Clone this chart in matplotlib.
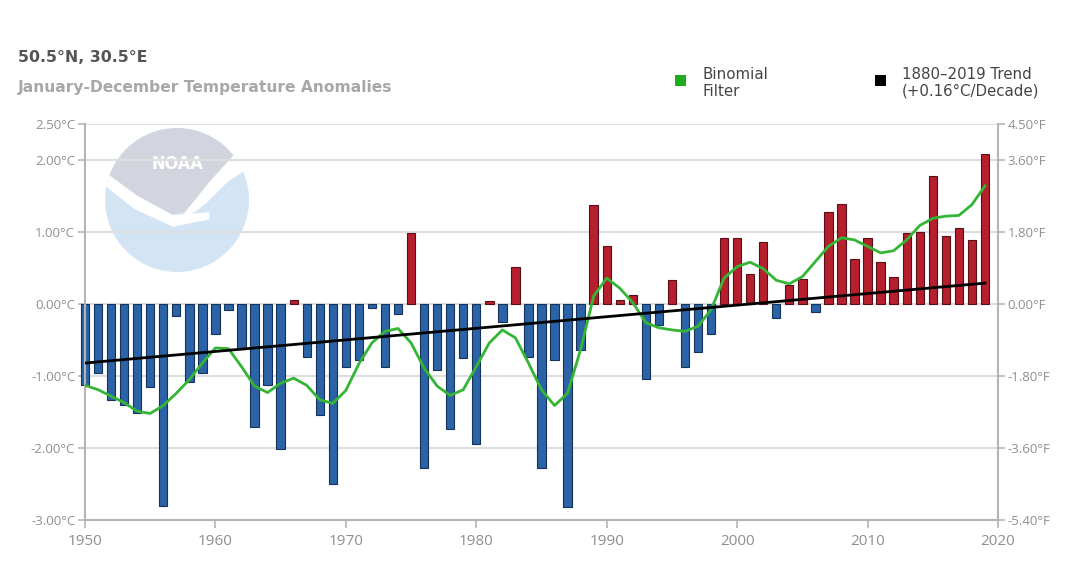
import matplotlib
matplotlib.use("Agg")
import matplotlib.pyplot as plt
import numpy as np
from matplotlib.patches import Circle, Polygon, Rectangle

W, H = 1081, 581

# annual anomalies (degC), 1950..2019
years = np.arange(1950, 2020)
anomaly = [
    -1.13, -0.96, -1.34, -1.40, -1.52, -1.15, -2.80, -0.16, -1.09, -0.96,
    -0.41, -0.09, -0.62, -1.71, -1.12, -2.01, 0.05, -0.74, -1.54, -2.50,
    -0.87, -0.78, -0.06, -0.87, -0.14, 0.98, -2.28, -0.91, -1.73, -0.75,
    -1.94, 0.04, -0.25, 0.51, -0.74, -2.28, -0.78, -2.82, -0.64, 1.38,
    0.81, 0.05, 0.12, -1.04, -0.29, 0.34, -0.88, -0.66, -0.41, 0.92,
    0.92, 0.42, 0.86, -0.19, 0.27, 0.35, -0.11, 1.28, 1.39, 0.62,
    0.92, 0.59, 0.38, 0.98, 1.00, 1.78, 0.95, 1.06, 0.89, 2.09,
]

# binomial filter curve
binomial = [
    -1.13, -1.19, -1.28, -1.37, -1.49, -1.52, -1.41, -1.24, -1.05, -0.82,
    -0.61, -0.62, -0.87, -1.14, -1.23, -1.10, -1.03, -1.13, -1.33, -1.38,
    -1.20, -0.83, -0.54, -0.38, -0.34, -0.54, -0.89, -1.14, -1.27, -1.19,
    -0.87, -0.54, -0.36, -0.47, -0.82, -1.19, -1.41, -1.24, -0.63, 0.11,
    0.36, 0.22, 0.02, -0.26, -0.33, -0.36, -0.38, -0.31, -0.08, 0.36,
    0.52, 0.58, 0.49, 0.33, 0.28, 0.38, 0.59, 0.80, 0.92, 0.89,
    0.80, 0.71, 0.74, 0.89, 1.09, 1.19, 1.22, 1.23, 1.38, 1.64,
]

# linear trend end points
trend_years = [1950, 2019]
trend_vals = [-0.82, 0.29]

c_ticks = [-3.0, -2.0, -1.0, 0.0, 1.0, 2.0, 2.5]
x_ticks = [1950, 1960, 1970, 1980, 1990, 2000, 2010, 2020]


def fx(px):
    return px / W


def fy(py):
    return 1 - py / H


fig = plt.figure(figsize=(W / 100, H / 100), dpi=100)
fig.patch.set_facecolor("white")
plt.rcParams["font.family"] = ["Open Sans", "DejaVu Sans"]

# watermark logo behind the plot (unit circle)
lg = fig.add_axes([fx(105), fy(272), fx(144), 144 / H])
lg.set_xlim(-1, 1)
lg.set_ylim(-1, 1)
lg.axis("off")
lg.set_zorder(0)
disc = Circle((0, 0), 1, fc="#d3e5f4", ec="none")
lg.add_patch(disc)
th = np.linspace(np.radians(38), np.radians(158), 60)
dome = list(zip(np.cos(th), np.sin(th))) + [
    (-1.0, 0.40), (-0.55, 0.05), (-0.06, -0.20), (0.12, -0.16),
    (0.45, 0.25), (0.80, 0.64)]
wing_l = [(-1.05, 0.42), (-0.55, 0.06), (-0.06, -0.21), (0.45, -0.17),
          (0.45, -0.27), (-0.06, -0.37), (-0.6, -0.12), (-1.05, 0.24)]
wing_r = [(0.82, 0.66), (0.45, 0.25), (0.12, -0.16), (-0.04, -0.38),
          (0.4, -0.05), (0.7, 0.25), (1.05, 0.48)]
for pts, col in [(dome, "#d2d5de"), (wing_l, "white"), (wing_r, "white")]:
    p = Polygon(pts, closed=True, fc=col, ec="none")
    lg.add_patch(p)
    p.set_clip_path(disc)
lg.text(0, 0.5, "NOAA", color="white", ha="center", va="center",
        fontsize=13, fontweight="bold", family="DejaVu Sans",
        fontstretch="condensed")

ax = fig.add_axes([fx(85), fy(520), fx(998 - 85), (520 - 124) / H])
ax.set_zorder(2)
ax.patch.set_visible(False)

cols = ["#b51f2e" if v > 0 else "#2b63a6" for v in anomaly]
edges = ["#5a0f17" if v > 0 else "#15335a" for v in anomaly]
ax.bar(years, anomaly, width=0.64, color=cols, edgecolor=edges,
       linewidth=0.8, zorder=2, clip_on=False)
ax.plot(years, binomial, color="#35b535", lw=2, zorder=3)
ax.plot(trend_years, trend_vals, color="black", lw=2, zorder=4)

ax.set_xlim(1950, 2020)
ax.set_ylim(-3.0, 2.5)
ax.set_yticks(c_ticks)
ax.set_yticklabels([f"{v:.2f}\u00b0C" for v in c_ticks])
ax.set_xticks(x_ticks)
ax.set_xticklabels([str(x) for x in x_ticks])
ax.grid(axis="y", color="#dedede", lw=1.5, zorder=0)
ax.set_axisbelow(True)

ax2 = ax.twinx()
ax2.set_zorder(3)
ax2.patch.set_visible(False)
ax2.set_ylim(-3.0, 2.5)
ax2.set_yticks(c_ticks)
ax2.set_yticklabels([f"{v * 1.8:.2f}\u00b0F" for v in c_ticks])

for a in (ax, ax2):
    for s in a.spines.values():
        s.set_color("#b5b5b5")
        s.set_linewidth(1.5)
    a.spines["top"].set_visible(False)
    a.tick_params(colors="#b5b5b5", labelcolor="#8f8f8f", length=5,
                  width=1.2, labelsize=9.5, pad=2)
ax.spines["right"].set_visible(False)
ax2.spines["left"].set_visible(False)
ax2.spines["bottom"].set_visible(False)
ax.tick_params(axis="x", labelsize=11, length=6, pad=4)

# titles
fig.text(fx(18), fy(58), "50.5\u00b0N, 30.5\u00b0E", fontsize=11.3,
         fontweight="bold", color="#555555", va="center",
         family="DejaVu Sans")
fig.text(fx(18), fy(87), "January-December Temperature Anomalies",
         fontsize=11.2, fontweight="bold", color="#a8a8a8", va="center",
         family="DejaVu Sans")

# legend
fig.patches.append(Rectangle((fx(675), fy(86)), fx(11), 11 / H,
                             fc="#1faa1f", ec="none",
                             transform=fig.transFigure, figure=fig))
fig.text(fx(702), fy(83), "Binomial\nFilter", fontsize=10.8,
         color="#444444", va="center", linespacing=1.15,
         family="DejaVu Sans")
fig.patches.append(Rectangle((fx(875), fy(86)), fx(11), 11 / H,
                             fc="black", ec="none",
                             transform=fig.transFigure, figure=fig))
fig.text(fx(902), fy(83), "1880\u20132019 Trend\n(+0.16\u00b0C/Decade)",
         fontsize=10.8, color="#444444", va="center", linespacing=1.15,
         family="DejaVu Sans")

fig.savefig("out.png", dpi=100, facecolor="white")
